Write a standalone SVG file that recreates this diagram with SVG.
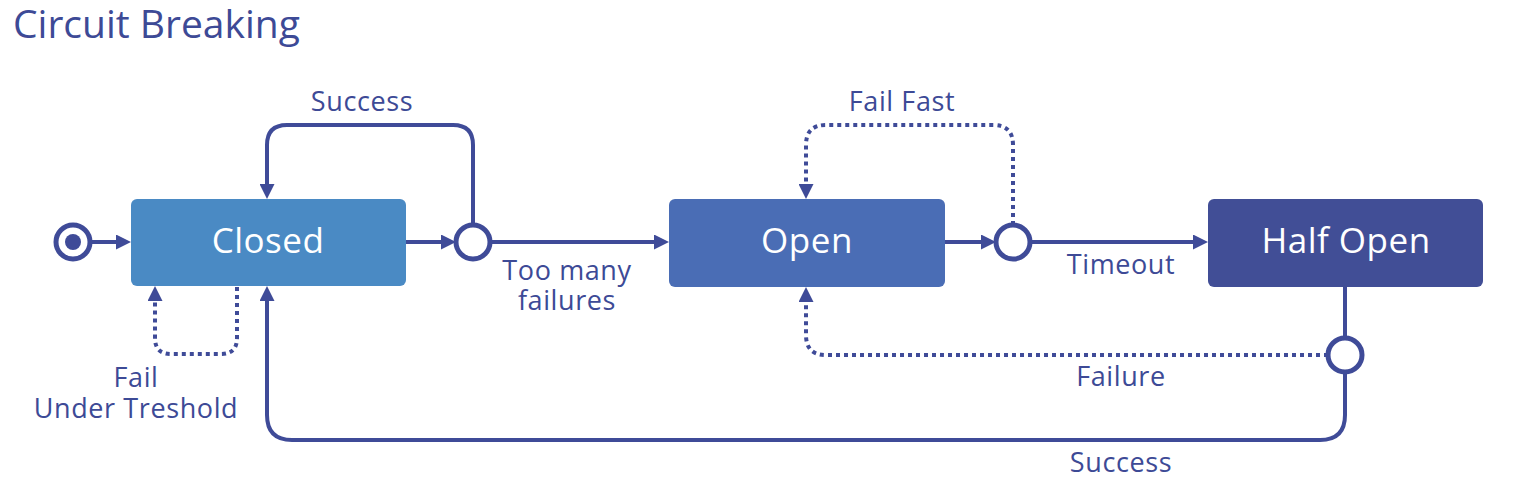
<svg xmlns="http://www.w3.org/2000/svg" width="1520" height="482" viewBox="0 0 1520 482">
<style>
.ln{fill:none;stroke:#3f4b98;stroke-width:4}
.dot{stroke-dasharray:4 4}
.lbl{font-family:"Open Sans","Liberation Sans",sans-serif;font-size:27px;letter-spacing:0.6px;fill:#3d4a96;text-anchor:middle}
.st{font-family:"Open Sans","Liberation Sans",sans-serif;font-size:35px;letter-spacing:0.5px;fill:#ffffff;text-anchor:middle}
.jn{fill:#ffffff;stroke:#3f4b98;stroke-width:5}
</style>
<defs>
<marker id="ah" markerUnits="userSpaceOnUse" markerWidth="15" markerHeight="15" refX="9" refY="7.5" orient="auto">
<path d="M0,0 L15,7.5 L0,15 z" fill="#3f4b98"/>
</marker>
</defs>
<text x="13" y="38" font-family="'Open Sans','Liberation Sans',sans-serif" font-size="39" fill="#3d4a96">Circuit Breaking</text>
<g id="connectors">
<path class="ln" d="M92 242 H125" marker-end="url(#ah)"/>
<path class="ln" d="M406 242 H450" marker-end="url(#ah)"/>
<path class="ln" d="M490 242 H663" marker-end="url(#ah)"/>
<path class="ln" d="M945 242 H990" marker-end="url(#ah)"/>
<path class="ln" d="M1030 242 H1202" marker-end="url(#ah)"/>
<path class="ln" d="M473 225 V145 Q473 125 453 125 H287 Q267 125 267 145 V193" marker-end="url(#ah)"/>
<path class="ln dot" d="M237 287 V338 Q237 354 221 354 H171 Q155 354 155 338 V292" marker-end="url(#ah)"/>
<path class="ln" d="M1345 372 V415 Q1345 440 1320 440 H292 Q267 440 267 415 V292" marker-end="url(#ah)"/>
<path class="ln" d="M1345 287 V338"/>
<path class="ln dot" d="M1328 355 H826 Q806 355 806 335 V293" marker-end="url(#ah)"/>
<path class="ln dot" d="M1013 225 V145 Q1013 125 993 125 H826 Q806 125 806 145 V193" marker-end="url(#ah)"/>
<text class="lbl" x="362" y="111">Success</text>
<text class="lbl" x="567" y="280">Too many</text>
<text class="lbl" x="567" y="310">failures</text>
<text class="lbl" x="136" y="387">Fail</text>
<text class="lbl" x="136" y="418">Under Treshold</text>
<text class="lbl" x="902" y="111">Fail Fast</text>
<text class="lbl" x="1121" y="274">Timeout</text>
<text class="lbl" x="1121" y="386">Failure</text>
<text class="lbl" x="1121" y="472">Success</text>
</g>
<g id="start">
<circle cx="73" cy="242" r="17" fill="#ffffff" stroke="#3f4b98" stroke-width="5"/>
<circle cx="73" cy="242" r="8" fill="#3f4b98"/>
</g>
<g id="closed">
<rect x="131" y="199" width="275" height="87" rx="6" fill="#4a8ac4"/>
<text class="st" x="268" y="253">Closed</text>
</g>
<g id="j1"><circle class="jn" cx="473" cy="242" r="17"/></g>
<g id="open">
<rect x="669" y="199" width="276" height="88" rx="6" fill="#4a6db5"/>
<text class="st" x="807" y="253">Open</text>
</g>
<g id="j2"><circle class="jn" cx="1013" cy="242" r="17"/></g>
<g id="halfopen">
<rect x="1208" y="199" width="275" height="88" rx="6" fill="#414e96"/>
<text class="st" x="1346" y="253">Half Open</text>
</g>
<g id="j3"><circle class="jn" cx="1345" cy="355" r="17"/></g>
</svg>
